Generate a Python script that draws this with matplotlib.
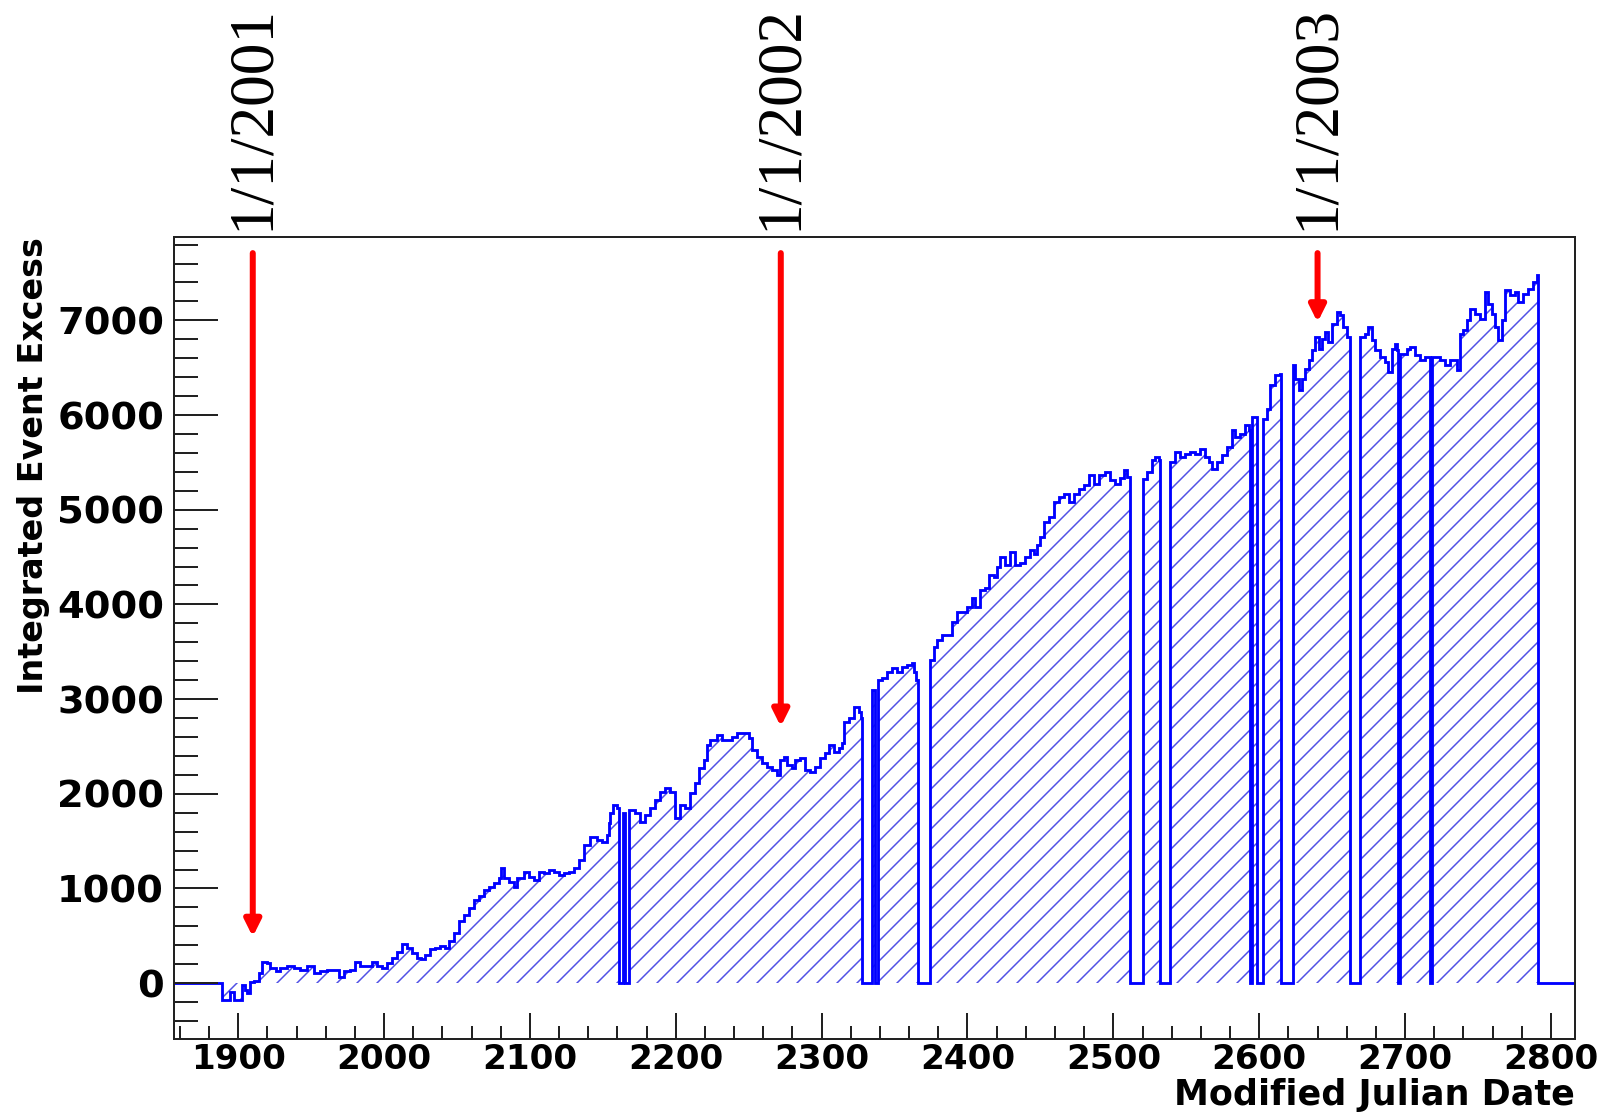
import matplotlib
matplotlib.use("Agg")
import matplotlib.pyplot as plt
from matplotlib.ticker import MultipleLocator

# Integrated excess as a step function: left edge of each step (MJD - 50000) and its value
step_mjd = [
    1856.0, 1889.0, 1894.7, 1897.0, 1902.7, 1904.5, 1906.1, 1908.4, 1910.7, 1914.1,
    1916.4, 1919.8, 1922.1, 1925.6, 1929.0, 1933.6, 1938.1, 1942.7, 1947.3, 1951.8,
    1956.4, 1961.0, 1969.0, 1972.4, 1977.0, 1980.4, 1983.8, 1991.8, 1995.3, 1998.7,
    2002.1, 2005.5, 2009.0, 2012.4, 2015.8, 2019.2, 2022.7, 2025.0, 2028.4, 2031.8,
    2035.2, 2038.7, 2042.1, 2044.4, 2047.8, 2051.2, 2054.7, 2058.1, 2061.5, 2064.9,
    2068.4, 2071.8, 2075.2, 2078.7, 2080.3, 2082.1, 2085.5, 2088.9, 2091.2, 2095.8,
    2099.2, 2102.6, 2106.1, 2109.5, 2112.9, 2116.4, 2119.8, 2123.2, 2126.6, 2130.1,
    2133.5, 2136.9, 2141.5, 2146.1, 2149.5, 2152.9, 2154.0, 2155.2, 2157.0, 2159.7,
    2161.0, 2163.5, 2165.5, 2168.0, 2172.3, 2175.7, 2179.1, 2182.6, 2186.0, 2189.4,
    2192.9, 2196.3, 2199.7, 2203.1, 2206.6, 2210.0, 2213.4, 2215.7, 2219.1, 2221.4,
    2223.7, 2228.3, 2231.7, 2238.6, 2242.0, 2250.0, 2252.3, 2255.7, 2259.1, 2262.6,
    2266.0, 2269.4, 2271.7, 2274.0, 2276.3, 2279.7, 2281.9, 2285.4, 2288.8, 2292.3,
    2295.7, 2299.1, 2302.5, 2304.8, 2308.3, 2311.7, 2314.0, 2315.1, 2318.5, 2322.0,
    2325.4, 2327.0, 2327.7, 2334.5, 2336.8, 2338.5, 2341.4, 2344.8, 2348.2, 2351.7,
    2355.1, 2358.5, 2362.0, 2363.5, 2364.7, 2366.0, 2374.5, 2376.8, 2379.1, 2382.5,
    2389.3, 2392.8, 2399.6, 2403.1, 2405.3, 2408.8, 2412.2, 2414.5, 2417.9, 2420.2,
    2422.5, 2425.9, 2429.3, 2432.8, 2436.2, 2439.6, 2443.0, 2445.3, 2447.6, 2449.9,
    2452.2, 2455.6, 2459.0, 2462.5, 2465.9, 2469.3, 2472.7, 2476.2, 2479.6, 2483.0,
    2486.5, 2489.9, 2494.5, 2497.9, 2501.3, 2504.7, 2507.0, 2509.3, 2511.5, 2520.2,
    2523.0, 2526.4, 2528.7, 2531.0, 2532.1, 2538.5, 2542.4, 2545.8, 2549.3, 2552.7,
    2556.1, 2559.5, 2563.0, 2565.3, 2567.5, 2571.0, 2574.4, 2577.8, 2581.2, 2583.5,
    2587.0, 2590.4, 2592.7, 2593.4, 2595.0, 2598.8, 2602.5, 2605.2, 2607.5, 2610.9,
    2614.4, 2615.0, 2623.0, 2624.7, 2627.0, 2629.2, 2631.5, 2633.8, 2636.1, 2638.4,
    2640.7, 2643.0, 2645.2, 2647.5, 2650.0, 2653.2, 2655.5, 2657.7, 2660.0, 2662.3,
    2669.2, 2672.6, 2674.9, 2677.2, 2679.4, 2682.9, 2686.3, 2688.6, 2690.9, 2693.2,
    2694.3, 2695.4, 2696.6, 2701.2, 2703.4, 2706.9, 2710.3, 2713.7, 2717.1, 2718.7,
    2724.0, 2727.4, 2730.9, 2735.9, 2737.7, 2740.0, 2742.3, 2744.6, 2748.0, 2751.4,
    2754.9, 2757.1, 2759.4, 2761.7, 2764.0, 2766.3, 2768.6, 2772.0, 2775.4, 2777.7,
    2781.1, 2784.6, 2788.0, 2790.7, 2791.4,
]
step_excess = [
    0, -176, -98, -176, -18, -70, -105, 7, 18, 105,
    218, 211, 158, 123, 158, 183, 158, 141, 176, 105,
    123, 141, 70, 123, 141, 218, 176, 218, 176, 158,
    211, 264, 334, 415, 370, 317, 264, 253, 299, 359,
    370, 387, 370, 440, 528, 651, 721, 792, 880, 915,
    985, 1020, 1055, 1108, 1214, 1108, 1073, 1020, 1108, 1178,
    1126, 1091, 1178, 1161, 1196, 1178, 1143, 1161, 1178, 1214,
    1302, 1460, 1548, 1513, 1495, 1566, 1688, 1794, 1880, 1850,
    0, 1800, 0, 1828, 1793, 1705, 1776, 1846, 1934, 2022,
    2057, 2022, 1740, 1881, 1846, 2004, 2110, 2268, 2356, 2514,
    2567, 2620, 2567, 2602, 2638, 2585, 2462, 2391, 2321, 2286,
    2251, 2198, 2356, 2391, 2303, 2268, 2356, 2374, 2251, 2233,
    2286, 2374, 2426, 2514, 2444, 2479, 2532, 2761, 2796, 2919,
    2866, 2796, 0, 3100, 0, 3200, 3218, 3288, 3323, 3288,
    3341, 3359, 3376, 3289, 3200, 0, 3412, 3552, 3623, 3675,
    3816, 3922, 3975, 4063, 3975, 4150, 4168, 4309, 4291, 4397,
    4502, 4414, 4555, 4414, 4432, 4502, 4573, 4537, 4625, 4713,
    4872, 4924, 5083, 5135, 5171, 5083, 5171, 5223, 5259, 5364,
    5276, 5364, 5399, 5311, 5276, 5330, 5416, 5347, 0, 5328,
    5399, 5522, 5557, 5522, 0, 5504, 5610, 5557, 5592, 5610,
    5592, 5645, 5557, 5504, 5434, 5504, 5575, 5663, 5838, 5768,
    5803, 5891, 5838, 0, 5980, 0, 5961, 6067, 6313, 6419,
    6436, 0, 6524, 6384, 6261, 6384, 6489, 6577, 6683, 6823,
    6700, 6806, 6876, 6771, 6965, 7088, 7053, 6929, 6824, 0,
    6824, 6859, 6929, 6789, 6683, 6613, 6560, 6455, 6701, 6753,
    6683, 0, 6648, 6701, 6718, 6630, 6578, 6613, 0, 6613,
    6578, 6525, 6578, 6472, 6859, 6894, 6999, 7123, 7070, 7017,
    7299, 7175, 7070, 6929, 6789, 6999, 7316, 7264, 7299, 7193,
    7281, 7334, 7404, 7475, 0,
]
mjd_end = 2816.5

# New Year markers
date_labels = ["1/1/2001", "1/1/2002", "1/1/2003"]
date_mjd = [1910, 2272, 2640]
arrow_tip = [490, 2710, 6980]
arrow_top = 7710

plt.rcParams["hatch.linewidth"] = 0.9
plt.rcParams["font.weight"] = "bold"

fig = plt.figure(figsize=(1616 / 120, 1114 / 120), dpi=120)
ax = fig.add_axes([174 / 1616, 75 / 1114, 1401 / 1616, 802 / 1114])

edges = step_mjd + [mjd_end]
# hatched area under the curve, then the outline on top
ax.stairs(step_excess, edges, baseline=0, fill=True, hatch="//",
          facecolor="none", edgecolor="#5050e6", linewidth=0)
ax.stairs(step_excess, edges, baseline=0, color="blue", linewidth=1.7)

ax.set_xlim(1856, mjd_end)
ax.set_ylim(-590, 7880)

ax.xaxis.set_major_locator(MultipleLocator(100))
ax.xaxis.set_minor_locator(MultipleLocator(20))
ax.yaxis.set_major_locator(MultipleLocator(1000))
ax.yaxis.set_minor_locator(MultipleLocator(200))
ax.tick_params(which="both", direction="in", top=False, right=False,
               width=1.2, color="#222222")
ax.tick_params(axis="x", which="major", length=15.6, pad=2.5, labelsize=20.5)
ax.tick_params(axis="x", which="minor", length=7.8)
ax.tick_params(axis="y", which="major", length=26.4, pad=6, labelsize=23)
ax.tick_params(axis="y", which="minor", length=14.4)
for spine in ax.spines.values():
    spine.set_linewidth(1.2)
    spine.set_color("#222222")

for label, x, tip in zip(date_labels, date_mjd, arrow_tip):
    ax.annotate("", xy=(x, tip), xytext=(x, arrow_top),
                arrowprops=dict(arrowstyle="-|>,head_length=0.5,head_width=0.25",
                                color="red", lw=3.6, mutation_scale=16,
                                shrinkA=0, shrinkB=0))
    ax.annotate(label, xy=(x, 1), xycoords=ax.get_xaxis_transform(),
                xytext=(0, 4), textcoords="offset points", rotation=90,
                ha="center", va="bottom", fontsize=38,
                family="Liberation Serif", fontweight="normal")

fig.text(34 / 1616, 1 - 237 / 1114, "Integrated Event Excess", rotation=90,
         ha="center", va="top", fontsize=20, fontweight="bold")
fig.text(1575 / 1616, 1 - 1105 / 1114, "Modified Julian Date",
         ha="right", va="baseline", fontsize=21, fontweight="bold")

fig.savefig("out.png", dpi=120)
